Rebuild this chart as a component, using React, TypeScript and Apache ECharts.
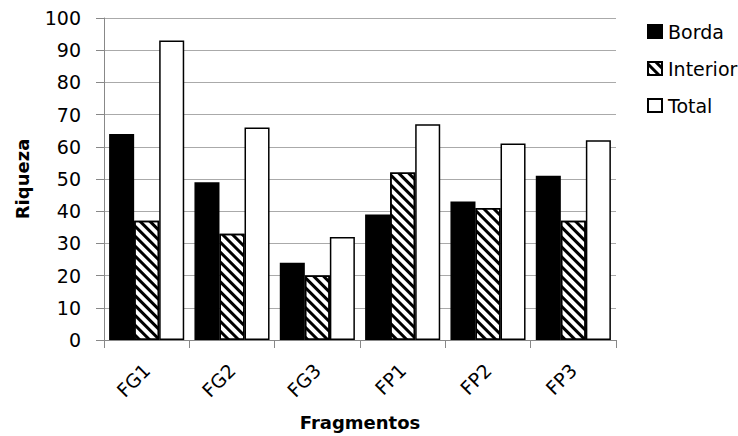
import React, { useEffect, useRef } from "react";
import * as echarts from "echarts";

const categories = ["FG1", "FG2", "FG3", "FP1", "FP2", "FP3"];
const borda = [64, 49, 24, 39, 43, 51];
const interior = [37, 33, 20, 52, 41, 37];
const total = [93, 66, 32, 67, 61, 62];
const yTicks = { min: 0, max: 100, interval: 10 };

const FONT = "DejaVu Sans";

export default function App() {
  const ref = useRef<HTMLDivElement>(null);
  useEffect(() => {
    if (!ref.current) return;
    const chart = echarts.init(ref.current, undefined, { renderer: "svg" });
    const barBase = {
      type: "bar",
      barGap: "0%",
      barCategoryGap: "12%",
    };
    chart.setOption({
      animation: false,
      backgroundColor: "#fff",
      textStyle: { fontFamily: FONT },
      grid: { left: 104, right: 122, top: 18, bottom: 92, containLabel: false },
      legend: {
        orient: "vertical",
        left: 642,
        top: 17,
        itemGap: 18,
        itemWidth: 14,
        itemHeight: 13,
        icon: "rect",
        textStyle: { fontFamily: FONT, fontSize: 19, color: "#000", padding: [0, 0, 0, 1] },
        data: ["Borda", "Interior", "Total"],
      },
      xAxis: {
        type: "category",
        data: categories,
        name: "Fragmentos",
        nameLocation: "middle",
        nameGap: 73,
        nameTextStyle: { fontFamily: FONT, fontSize: 18, fontWeight: "bold", color: "#000" },
        axisLine: { lineStyle: { color: "#888", width: 1 } },
        axisTick: { show: true, length: 8, lineStyle: { color: "#888" } },
        axisLabel: { rotate: 45, fontFamily: FONT, fontSize: 19, color: "#000", margin: 27 },
      },
      yAxis: {
        type: "value",
        min: yTicks.min,
        max: yTicks.max,
        interval: yTicks.interval,
        name: "Riqueza",
        nameLocation: "middle",
        nameGap: 73,
        nameTextStyle: { fontFamily: FONT, fontSize: 18, fontWeight: "bold", color: "#000" },
        axisLine: { show: true, lineStyle: { color: "#888", width: 1 } },
        axisTick: { show: true, length: 8, lineStyle: { color: "#888" } },
        axisLabel: { fontFamily: FONT, fontSize: 19, color: "#000", margin: 23 },
        splitLine: { lineStyle: { color: "#aaa", width: 1 } },
      },
      series: [
        {
          ...barBase,
          name: "Borda",
          data: borda,
          itemStyle: { color: "#000", borderColor: "#000", borderWidth: 1.5 },
        },
        {
          ...barBase,
          name: "Interior",
          data: interior,
          itemStyle: {
            color: "#fff",
            borderColor: "#000",
            borderWidth: 1.5,
            decal: {
              symbol: "rect",
              symbolSize: 1,
              color: "#000",
              backgroundColor: "#fff",
              dashArrayX: [1, 0],
              dashArrayY: [2.2, 3.4],
              rotation: Math.PI / 4,
            },
          },
        },
        {
          ...barBase,
          name: "Total",
          data: total,
          itemStyle: { color: "#fff", borderColor: "#000", borderWidth: 1.5 },
        },
      ],
    });
    return () => chart.dispose();
  }, []);
  return <div ref={ref} style={{ width: 738, height: 436, position: "absolute", left: 0, top: 0 }} />;
}
